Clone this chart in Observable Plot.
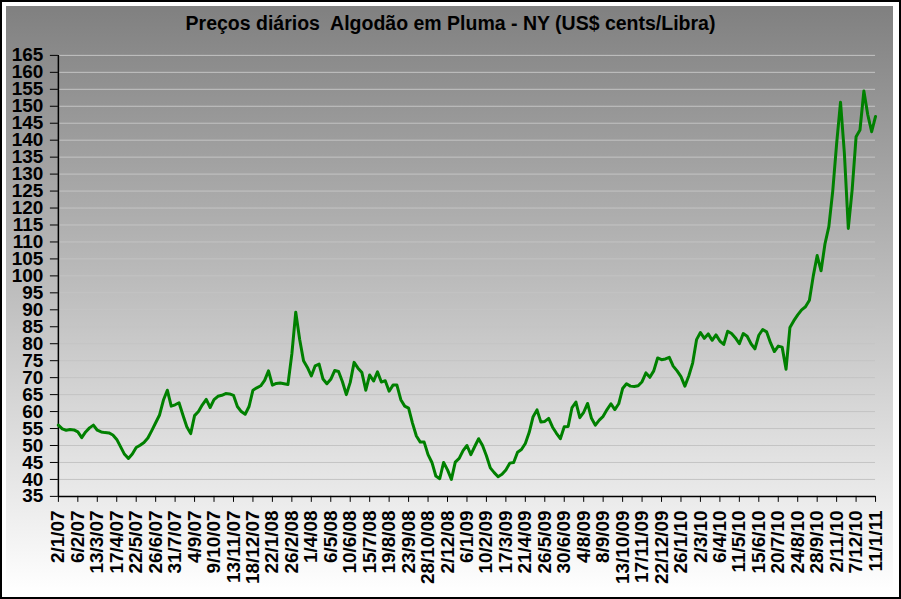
<!DOCTYPE html>
<html>
<head>
<meta charset="utf-8">
<script src="https://cdn.jsdelivr.net/npm/d3@7"></script>
<script src="https://cdn.jsdelivr.net/npm/@observablehq/plot@0.6"></script>
<style>
  html, body { margin: 0; padding: 0; background: #fff; }
  #frame { position: relative; width: 901px; height: 599px; box-sizing: border-box; border: 2px solid #000; background: #fff; overflow: hidden; }
  #bg { position: absolute; left: 4px; top: 4px; right: 6px; bottom: 4px; background: linear-gradient(#808080, #ffffff); }
  #chart { position: absolute; left: -2px; top: -2px; }
  #title { position: absolute; left: -2px; top: 10px; width: 901px; text-align: center; white-space: pre;
           font: bold 19.5px "Liberation Sans", Arial, sans-serif; line-height: normal; color: #000; }
</style>
</head>
<body>
<div id="frame">
  <div id="bg"></div>
  <div id="chart"></div>
  <div id="title">Preços diários  Algodão em Pluma - NY (US$ cents/Libra)</div>
</div>
<script>
// Weekly closing prices (US$ cents/lb), one value per week starting 2/1/07
const startDate = "2007-01-02";
const weeklyPrice = [
  56.0, 54.9, 54.5, 54.7, 54.6, 54.0, 52.3, 54.0, 55.2, 56.0,
  54.5, 54.0, 53.8, 53.7, 53.1, 51.8, 49.6, 47.4, 46.2, 47.5,
  49.4, 50.1, 50.9, 52.2, 54.4, 56.7, 59.0, 63.4, 66.3, 61.6,
  62.0, 62.6, 59.0, 55.5, 53.5, 58.8, 60.0, 62.0, 63.6, 61.2,
  63.5, 64.5, 64.8, 65.3, 65.2, 64.8, 61.5, 60.0, 59.2, 61.5,
  66.3, 67.0, 67.6, 69.2, 72.0, 67.8, 68.3, 68.4, 68.2, 68.0,
  77.0, 89.3, 81.3, 75.0, 73.0, 70.5, 73.5, 74.0, 69.6, 68.2,
  69.5, 72.1, 71.8, 68.8, 65.0, 68.6, 74.5, 72.8, 71.5, 66.3,
  70.8, 69.0, 71.7, 68.7, 69.1, 66.0, 67.8, 67.8, 63.5, 61.6,
  61.0, 56.6, 52.8, 51.0, 51.0, 47.3, 45.0, 41.0, 40.2, 45.0,
  42.8, 40.0, 45.1, 46.2, 48.5, 50.0, 47.3, 49.7, 52.0, 50.0,
  47.0, 43.4, 42.0, 40.8, 41.5, 42.8, 44.8, 45.0, 48.0, 48.8,
  50.6, 53.9, 58.5, 60.5, 56.9, 57.1, 58.0, 55.4, 53.6, 52.0,
  55.5, 55.6, 61.2, 62.8, 58.2, 59.8, 62.4, 58.0, 56.0, 57.5,
  58.6, 60.6, 62.3, 60.6, 62.3, 66.8, 68.2, 67.5, 67.4, 67.6,
  68.8, 71.4, 70.1, 72.0, 75.8, 75.3, 75.5, 76.0, 73.4, 72.0,
  70.3, 67.5, 70.5, 74.3, 81.2, 83.3, 81.6, 82.9, 81.0, 82.6,
  80.8, 79.8, 83.7, 83.0, 81.7, 80.0, 83.0, 82.2, 80.0, 78.5,
  82.5, 84.2, 83.5, 80.3, 77.7, 79.3, 79.0, 72.5, 84.8, 86.8,
  88.5, 90.0, 90.9, 92.8, 100.0, 106.0, 101.5, 109.4, 114.5, 125.0,
  139.0, 151.2, 136.0, 114.0, 125.5, 141.0, 143.0, 154.5, 147.5, 142.5,
  147.0
];

const tickLabels = [
  "2/1/07", "6/2/07", "13/3/07", "17/4/07", "22/5/07", "26/6/07", "31/7/07", "4/9/07",
  "9/10/07", "13/11/07", "18/12/07", "22/1/08", "26/2/08", "1/4/08", "6/5/08", "10/6/08",
  "15/7/08", "19/8/08", "23/9/08", "28/10/08", "2/12/08", "6/1/09", "10/2/09", "17/3/09",
  "21/4/09", "26/5/09", "30/6/09", "4/8/09", "8/9/09", "13/10/09", "17/11/09", "22/12/09",
  "26/1/10", "2/3/10", "6/4/10", "11/5/10", "15/6/10", "20/7/10", "24/8/10", "28/9/10",
  "2/11/10", "7/12/10", "11/1/11"
];

const yTicks = [35, 40, 45, 50, 55, 60, 65, 70, 75, 80, 85, 90, 95, 100, 105, 110, 115, 120, 125, 130, 135, 140, 145, 150, 155, 160, 165];

const parseLabel = d3.utcParse("%d/%m/%y");
const tickDates = tickLabels.map(parseLabel);
const labelByTime = new Map(tickDates.map((d, i) => [+d, tickLabels[i]]));
const t0 = d3.utcParse("%Y-%m-%d")(startDate);
const data = weeklyPrice.map((v, i) => ({ date: d3.utcDay.offset(t0, 7 * i), price: v }));

const chart = Plot.plot({
  width: 901,
  height: 599,
  marginLeft: 58,
  marginRight: 24,
  marginTop: 55,
  marginBottom: 102,
  style: { background: "transparent", fontFamily: "'Liberation Sans', Arial, sans-serif", fontSize: "19px", fontWeight: "bold", color: "#000", overflow: "visible" },
  x: { type: "utc", domain: [tickDates[0], tickDates[tickDates.length - 1]] },
  y: { domain: [35, 165] },
  marks: [
    Plot.ruleY(yTicks.slice(1), { stroke: "#c4c4c4", strokeWidth: 1 }),
    Plot.axisY({ ticks: yTicks, tickFormat: d => String(d), tickSize: 8, tickPadding: 7, label: null, stroke: "#000", strokeOpacity: 1 }),
    Plot.axisX({ ticks: tickDates, tickFormat: d => labelByTime.get(+d), tickRotate: -90, tickSize: 6, tickPadding: 8, label: null, stroke: "#000", strokeOpacity: 1 }),
    Plot.ruleX([tickDates[0]], { stroke: "#000", strokeWidth: 1.5 }),
    Plot.ruleY([35], { stroke: "#000", strokeWidth: 1.5 }),
    Plot.line(data, { x: "date", y: "price", stroke: "#008000", strokeWidth: 3, strokeLinejoin: "round" })
  ]
});
document.getElementById("chart").appendChild(chart);
</script>
</body>
</html>
